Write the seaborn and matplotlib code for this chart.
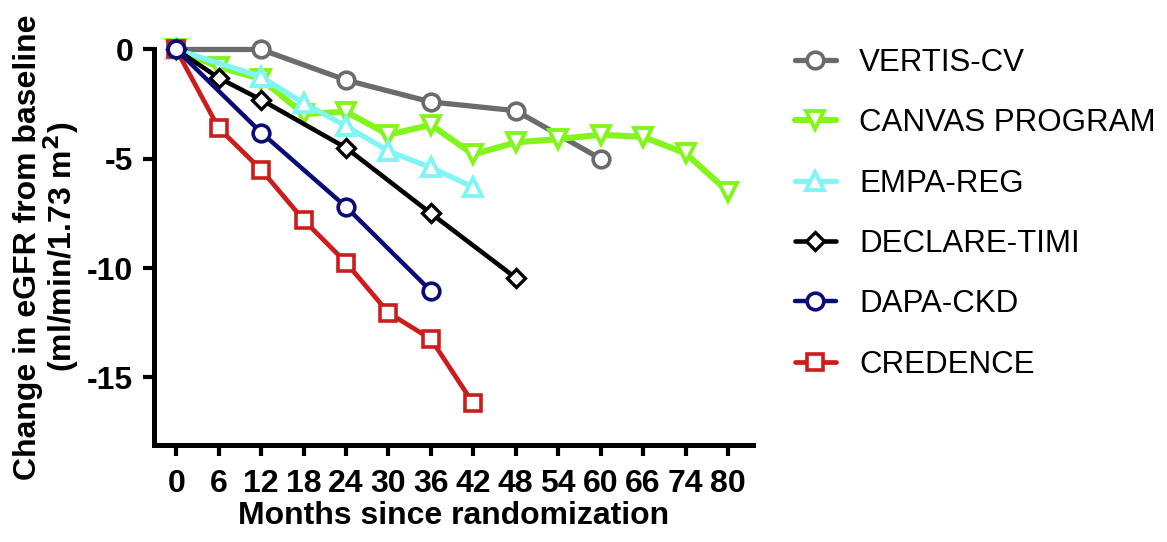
import matplotlib
matplotlib.use("Agg")
import matplotlib.pyplot as plt
import seaborn as sns
import numpy as np
import pandas as pd

# ---- data ----
tick_pos = [0, 6, 12, 18, 24, 30, 36, 42, 48, 54, 60, 66, 72, 78]
tick_labels = ["0", "6", "12", "18", "24", "30", "36", "42", "48", "54", "60", "66", "74", "80"]

vertis_x = [0, 12, 24, 36, 48, 60]
vertis_y = [0, 0, -1.4, -2.4, -2.8, -5.0]

canvas_x = [0, 6, 12, 18, 24, 30, 36, 42, 48, 54, 60, 66, 72, 78]
canvas_y = [0, -0.8, -1.35, -2.95, -2.85, -3.9, -3.45, -4.8, -4.25, -4.1, -3.9, -4.0, -4.75, -6.5]

empa_x = [0, 12, 18, 24, 30, 36, 42]
empa_y = [0, -1.25, -2.45, -3.5, -4.65, -5.4, -6.3]

declare_x = [0, 6, 12, 24, 36, 48]
declare_y = [0, -1.3, -2.3, -4.5, -7.5, -10.45]

dapa_x = [0, 12, 24, 36]
dapa_y = [0, -3.8, -7.2, -11.05]

credence_x = [0, 6, 12, 18, 24, 30, 36, 42]
credence_y = [0, -3.6, -5.5, -7.8, -9.75, -12.05, -13.25, -16.2]

names = ["VERTIS-CV", "CANVAS PROGRAM", "EMPA-REG", "DECLARE-TIMI", "DAPA-CKD", "CREDENCE"]

sns.set_theme(style="white")
plt.rcParams['font.family'] = ['Liberation Sans', 'DejaVu Sans']
plt.rcParams['text.color'] = 'black'
plt.rcParams['axes.labelcolor'] = 'black'
plt.rcParams['xtick.color'] = 'black'
plt.rcParams['ytick.color'] = 'black'

fig = plt.figure(figsize=(11.67, 5.42), dpi=100)
ax = fig.add_axes([154/1167, 1-445/542, (752.7-154)/1167, (445-49.5)/542])

series = {
    "VERTIS-CV": (vertis_x, vertis_y, "#6b6b6b", "o", 3.8, 12, 2.6),
    "CANVAS PROGRAM": (canvas_x, canvas_y, "#84f51c", "v", 4.4, 13, 2.8),
    "EMPA-REG": (empa_x, empa_y, "#7ff5f5", "^", 3.8, 13, 2.8),
    "DECLARE-TIMI": (declare_x, declare_y, "#000000", "D", 3.3, 9, 2.4),
    "CREDENCE": (credence_x, credence_y, "#cc1c1c", "s", 3.4, 12, 2.6),
    "DAPA-CKD": (dapa_x, dapa_y, "#0a0a78", "o", 3.2, 12, 2.6),
}

handles = {}
for name, (xs, ys, col, mk, lw, ms, mew) in series.items():
    df = pd.DataFrame({"month": xs, "egfr": ys})
    sns.lineplot(data=df, x="month", y="egfr", ax=ax, color=col, marker=mk,
                 lw=lw, markersize=ms, markerfacecolor="white",
                 markeredgecolor=col, markeredgewidth=mew, clip_on=False,
                 label=name, legend=False)
    handles[name] = ax.lines[-1]

ax.set_xlim(-3.15, 81.5)
ax.set_ylim(-18.1, 0)
ax.set_xticks(tick_pos)
ax.set_xticklabels(tick_labels)
ax.set_yticks([0, -5, -10, -15])
ax.set_yticklabels(["0", "-5", "-10", "-15"])

for s in ["top", "right"]:
    ax.spines[s].set_visible(False)
for s in ["left", "bottom"]:
    ax.spines[s].set_linewidth(3.6)
    ax.spines[s].set_color("black")
ax.tick_params(axis="both", direction="out", length=8, width=3, color="black",
               labelcolor="black", labelsize=23, bottom=True, left=True)
ax.tick_params(axis="x", pad=9)
ax.tick_params(axis="y", pad=7)
for lab in ax.get_xticklabels() + ax.get_yticklabels():
    lab.set_fontweight("bold")
    lab.set_family(['Liberation Sans Narrow', 'Liberation Sans'])

ax.set_xlabel("Months since randomization", fontsize=23, fontweight="bold",
              labelpad=2, color="black")
ax.set_ylabel("Change in eGFR from baseline\n(ml/min/1.73 m$^\\mathbf{2}$)", fontsize=23,
              fontweight="bold", labelpad=4, linespacing=0.95, color="black")

leg = fig.legend([handles[n] for n in names], names, loc="upper left",
                 bbox_to_anchor=(795/1167, 1-48/542), frameon=False, fontsize=22.5,
                 handlelength=1.3, handletextpad=0.75, labelspacing=0.97,
                 borderpad=0, borderaxespad=0, labelcolor="black")

fig.savefig("out.png", dpi=100)
